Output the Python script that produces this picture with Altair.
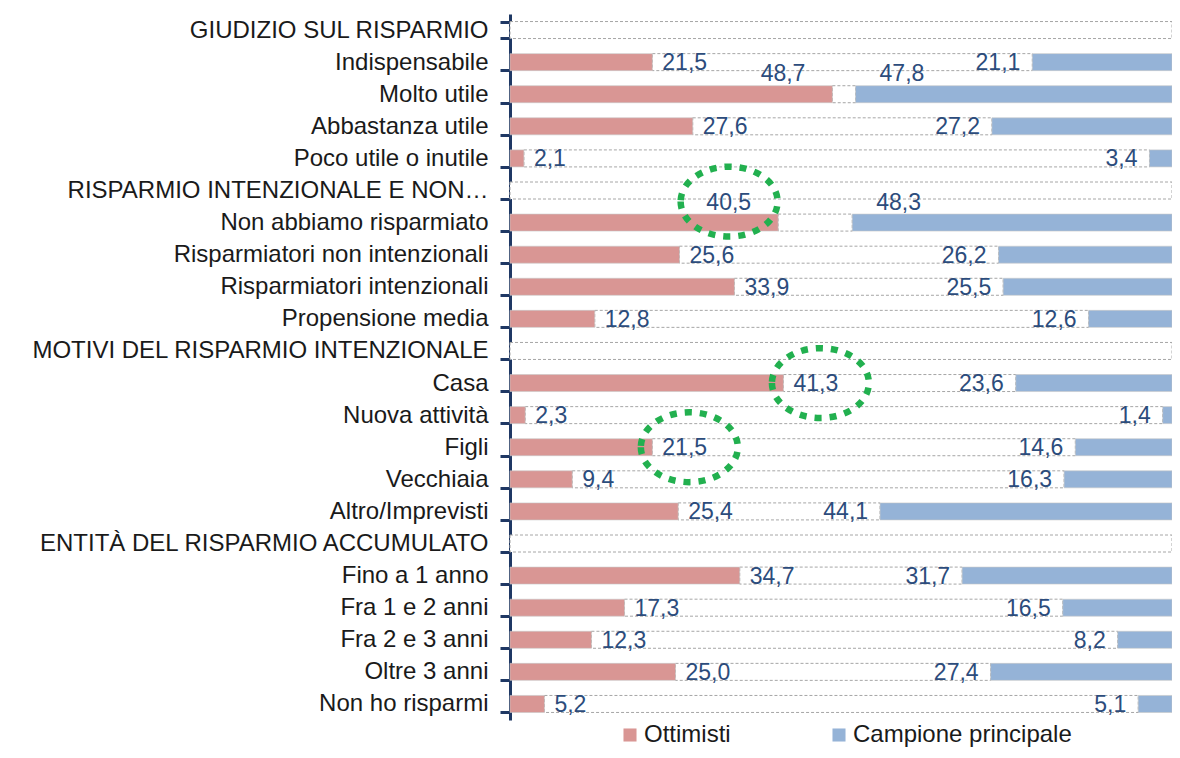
import altair as alt
import pandas as pd

categorie = [
    "GIUDIZIO SUL RISPARMIO", "Indispensabile", "Molto utile", "Abbastanza utile",
    "Poco utile o inutile", "RISPARMIO INTENZIONALE E NON…", "Non abbiamo risparmiato",
    "Risparmiatori non intenzionali", "Risparmiatori intenzionali", "Propensione media",
    "MOTIVI DEL RISPARMIO INTENZIONALE", "Casa", "Nuova attività", "Figli", "Vecchiaia",
    "Altro/Imprevisti", "ENTITÀ DEL RISPARMIO ACCUMULATO", "Fino a 1 anno",
    "Fra 1 e 2 anni", "Fra 2 e 3 anni", "Oltre 3 anni", "Non ho risparmi",
]
ottimisti = [None, 21.5, 48.7, 27.6, 2.1, None, 40.5, 25.6, 33.9, 12.8, None,
             41.3, 2.3, 21.5, 9.4, 25.4, None, 34.7, 17.3, 12.3, 25.0, 5.2]
campione = [None, 21.1, 47.8, 27.2, 3.4, None, 48.3, 26.2, 25.5, 12.6, None,
            23.6, 1.4, 14.6, 16.3, 44.1, None, 31.7, 16.5, 8.2, 27.4, 5.1]
serie = ["Ottimisti", "Campione principale"]
colori = ["#D99694", "#95B3D7"]
evidenziati = ["Non abbiamo risparmiato", "Casa", "Figli"]

wide = pd.DataFrame({"cat": categorie, "ott": ottimisti, "camp": campione})
wide["ev"] = wide["cat"].isin(evidenziati)

rows = []
for c, o, p in zip(categorie, ottimisti, campione):
    if o is not None:
        rows.append({"cat": c, "serie": serie[0], "v": o})
    if p is not None:
        rows.append({"cat": c, "serie": serie[1], "v": p})
long = pd.DataFrame(rows)

FONT = "Liberation Sans"
TXT = "#2C4C7C"
NAVY = "#1F3864"

ysc = alt.Y("cat:N", sort=categorie,
            scale=alt.Scale(paddingInner=0.48, paddingOuter=0.24),
            axis=alt.Axis(title=None, labelFont=FONT, labelFontSize=24, labelColor="#1a1a1a",
                          labelPadding=12, labelLimit=0, domainColor=NAVY, domainWidth=3,
                          tickColor=NAVY, tickWidth=3, tickSize=10, tickBand="extent"))
xsc = alt.Scale(domain=[0, 100], nice=False, zero=True)

base_w = alt.Chart(wide).transform_calculate(
    a="isValid(datum.ott) ? datum.ott : 0",
    b="100 - (isValid(datum.camp) ? datum.camp : 0)",
    gap="100 - (isValid(datum.ott) ? datum.ott : 0) - (isValid(datum.camp) ? datum.camp : 0)",
    lo="replace(format(datum.ott, '.1f'), '.', ',')",
    lc="replace(format(datum.camp, '.1f'), '.', ',')",
)

middle = base_w.mark_bar(size=17, fill="white", stroke="#A6A6A6", strokeWidth=1,
                         strokeDash=[3, 2]).encode(
    x=alt.X("a:Q", scale=xsc, axis=None), x2="b:Q", y=ysc)

bars = alt.Chart(long).transform_calculate(
    x0="datum.serie == 'Ottimisti' ? 0 : 100 - datum.v",
    x1="datum.serie == 'Ottimisti' ? datum.v : 100",
).mark_bar(size=17, stroke="#C8C8C8", strokeWidth=0.6).encode(
    x=alt.X("x0:Q", scale=xsc, axis=None), x2="x1:Q", y=alt.Y("cat:N", sort=categorie),
    color=alt.Color("serie:N", scale=alt.Scale(domain=serie, range=colori), sort=serie,
                    legend=alt.Legend(title=None, orient="none", legendX=108, legendY=709,
                                      direction="horizontal", symbolType="square",
                                      symbolSize=170, symbolStrokeWidth=0, labelFont=FONT,
                                      labelFontSize=24, labelColor="#1a1a1a", labelLimit=0,
                                      columnPadding=96, labelOffset=2)),
)

txt_kw = dict(font=FONT, fontSize=23, color=TXT, baseline="middle")
valid_o = "isValid(datum.ott)"
valid_c = "isValid(datum.camp)"

lab_o = base_w.transform_filter(f"{valid_o} && datum.gap >= 15").mark_text(
    align="left", dx=10, dy=1, **txt_kw).encode(
    x=alt.X("ott:Q", scale=xsc), y=alt.Y("cat:N", sort=categorie), text="lo:N")
lab_o_up = base_w.transform_filter(f"{valid_o} && datum.gap < 15").mark_text(
    align="right", dx=-27, dy=-20, **txt_kw).encode(
    x=alt.X("ott:Q", scale=xsc), y=alt.Y("cat:N", sort=categorie), text="lo:N")
lab_c = base_w.transform_filter(f"{valid_c} && datum.gap >= 15").mark_text(
    align="right", dx=-12, dy=1, **txt_kw).encode(
    x=alt.X("b:Q", scale=xsc), y=alt.Y("cat:N", sort=categorie), text="lc:N")
lab_c_up = base_w.transform_filter(f"{valid_c} && datum.gap < 15").mark_text(
    align="left", dx=24, dy=-20, **txt_kw).encode(
    x=alt.X("b:Q", scale=xsc), y=alt.Y("cat:N", sort=categorie), text="lc:N")

ellisse = "M -1 0 A 1 0.72 0 1 0 1 0 A 1 0.72 0 1 0 -1 0 Z"
ell_kw = dict(shape=ellisse, filled=False, stroke="#22B04F", strokeWidth=6.5,
              strokeDash=[7, 8], size=9400, opacity=1)
ell_n = base_w.transform_filter("datum.ev && datum.gap >= 15").mark_point(
    xOffset=37, **ell_kw).encode(
    x=alt.X("ott:Q", scale=xsc), y=alt.Y("cat:N", sort=categorie))
ell_u = base_w.transform_filter("datum.ev && datum.gap < 15").mark_point(
    xOffset=-49, yOffset=-21, **ell_kw).encode(
    x=alt.X("ott:Q", scale=xsc), y=alt.Y("cat:N", sort=categorie))

chart = alt.layer(middle, bars, lab_o, lab_o_up, lab_c, lab_c_up, ell_n, ell_u).properties(
    width=662, height=706,
    autosize=alt.AutoSizeParams(type="none"),
    padding={"left": 502, "top": 6, "right": 0, "bottom": 30},
).configure_view(stroke=None).configure_axis(grid=False).configure_axisY(
    domainColor=NAVY, domainWidth=3, tickColor=NAVY, tickWidth=3, tickSize=10)

chart.save("out.html", embed_options={"renderer": "svg", "actions": False})
